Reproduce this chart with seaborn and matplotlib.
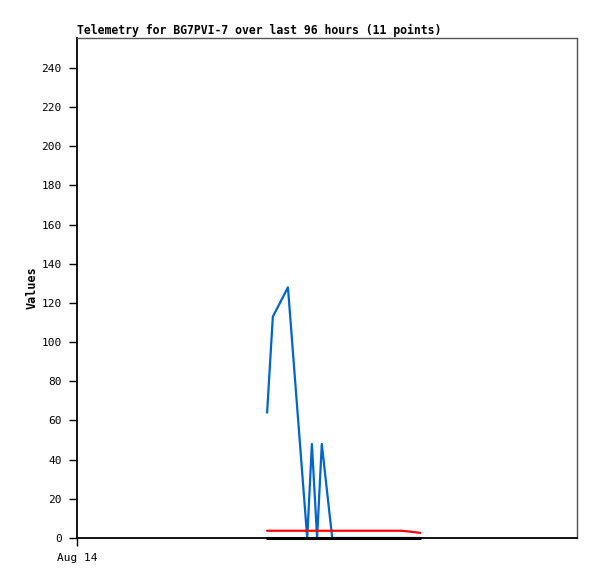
import matplotlib
matplotlib.use("Agg")
import matplotlib.pyplot as plt
import seaborn as sns
import pandas as pd

# data: hours since Aug 14 00:00, 11 telemetry points
hours = [36.5, 37.6, 40.5, 44.2, 45.1, 46.1, 47.0, 49.0, 62.2, 64.5, 65.9]
ch_blue = [64, 113, 128, 0, 48, 0, 48, 0, 0, 0, 0]
ch_red = [3.7, 3.7, 3.7, 3.7, 3.7, 3.7, 3.7, 3.7, 3.7, 3.1, 2.6]
ch_black = [0, 0, 0, 0, 0, 0, 0, 0, 0, 0, 0]
yticks = list(range(0, 241, 20))
xtick_labels = ["Aug 14"]

sns.set_style("white")
plt.rcParams["font.family"] = ["DejaVu Sans Mono", "DejaVu Sans"]
plt.rcParams["text.color"] = "black"
plt.rcParams["axes.labelcolor"] = "black"

df = pd.DataFrame({"hours": hours, "blue": ch_blue, "red": ch_red, "black": ch_black})

fig = plt.figure(figsize=(5.97, 5.79), dpi=100)
ax = fig.add_axes([77 / 597, 41 / 579, 500 / 597, 500 / 579])

sns.lineplot(data=df, x="hours", y="blue", ax=ax, color="#0066cc", linewidth=1.6)
sns.lineplot(data=df, x="hours", y="red", ax=ax, color="#ff0000", linewidth=1.6)
sns.lineplot(data=df, x="hours", y="black", ax=ax, color="#000000", linewidth=2.2)
for ln in ax.lines:
    ln.set_clip_on(False)

ax.set_xlim(0, 96)
ax.set_ylim(0, 255.3)
ax.set_yticks(yticks)
ax.set_yticklabels([str(v) for v in yticks], fontsize=8)
ax.set_xticks([0])
ax.set_xticklabels(xtick_labels, fontsize=8)
ax.tick_params(axis="both", direction="out", length=6, width=1, colors="black",
               left=True, bottom=True, pad=5)
ax.set_xlabel("")
ax.set_ylabel("Values", fontsize=8.5, fontweight="bold", labelpad=2)

for side in ["left", "bottom"]:
    ax.spines[side].set_color("black")
    ax.spines[side].set_linewidth(1.3)
for side in ["top", "right"]:
    ax.spines[side].set_color("#555555")
    ax.spines[side].set_linewidth(1.0)

ax.set_title("Telemetry for BG7PVI-7 over last 96 hours (11 points)",
             loc="left", fontsize=8.3, fontweight="bold", pad=3, color="black")

fig.savefig("out.png", dpi=100)
